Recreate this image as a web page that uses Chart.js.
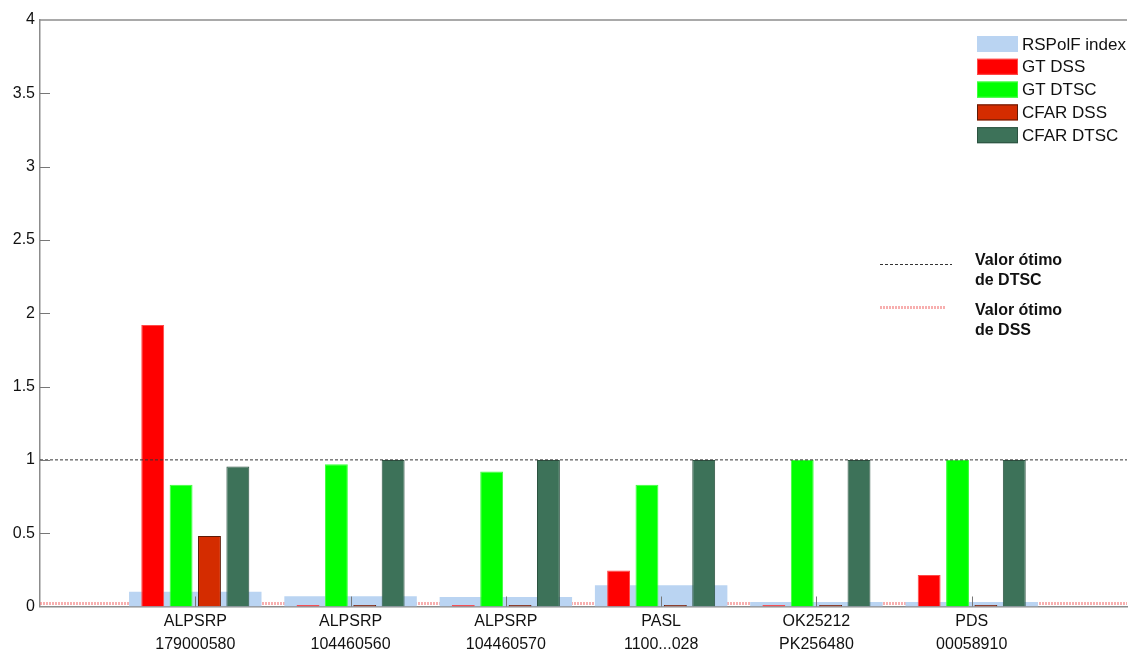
<!DOCTYPE html>
<html>
<head>
<meta charset="utf-8">
<script src="https://cdn.jsdelivr.net/npm/chart.js@4.4.1/dist/chart.umd.min.js"></script>
<style>
  html, body { margin: 0; padding: 0; background: #ffffff; }
  #wrap { width: 1131px; height: 653px; position: relative; }
</style>
</head>
<body>
<div id="wrap"><canvas id="chart"></canvas></div>
<script>
// Scenes shown along the horizontal axis (two-line labels)
const categories = [
  ['ALPSRP', '179000580'],
  ['ALPSRP', '104460560'],
  ['ALPSRP', '104460570'],
  ['PASL', '1100...028'],
  ['OK25212', 'PK256480'],
  ['PDS', '00058910']
];

// Series values per scene
const rspolfIndex = [0.10, 0.07, 0.065, 0.145, 0.03, 0.03];
const gtDss       = [1.92, 0.01, 0.01, 0.245, 0.01, 0.215];
const gtDtsc      = [0.83, 0.97, 0.92, 0.83, 1.00, 1.00];
const cfarDss     = [0.48, 0.01, 0.01, 0.01, 0.01, 0.01];
const cfarDtsc    = [0.955, 1.00, 1.00, 1.00, 1.00, 1.00];

// Optimum reference levels
const optimumDtsc = 1;
const optimumDss = 0.02;

// Y axis ticks
const yTicks = [0, 0.5, 1, 1.5, 2, 2.5, 3, 3.5, 4];

// The axis runs from slot 0 to slot 7, scenes sit on slots 1..6
const axisLabels = [[''], ...categories, ['']];
const pad = arr => [null, ...arr, null];
const flat = v => axisLabels.map(() => v);

const FONT = '"Liberation Sans", Arial, sans-serif';

const barCommon = {
  type: 'bar',
  categoryPercentage: 0.731,
  barPercentage: 0.807,
  borderSkipped: 'bottom'
};

// Frame, inner tick marks, legend and reference-line notes
const decorations = {
  id: 'decorations',
  afterDraw(chart) {
    const { ctx, chartArea: a, scales } = chart;
    const x = scales.x, y = scales.y;
    ctx.save();
    // top frame line
    ctx.strokeStyle = '#8c8c8c';
    ctx.lineWidth = 1.5;
    ctx.beginPath();
    ctx.moveTo(a.left, a.top);
    ctx.lineTo(a.right, a.top);
    ctx.stroke();
    // inner ticks on the y axis
    ctx.lineWidth = 1;
    ctx.strokeStyle = '#777';
    yTicks.forEach(v => {
      if (v === 0 || v === 4) return;
      const py = Math.round(y.getPixelForValue(v)) + 0.5;
      ctx.beginPath();
      ctx.moveTo(a.left, py);
      ctx.lineTo(a.left + 10, py);
      ctx.stroke();
    });
    // inner ticks on the x axis at each scene
    categories.forEach((c, i) => {
      const px = Math.round(x.getPixelForValue(i + 1)) + 0.5;
      ctx.beginPath();
      ctx.moveTo(px, a.bottom);
      ctx.lineTo(px, a.bottom - 10);
      ctx.stroke();
    });

    // legend for the bar series
    const bars = chart.data.datasets.filter(d => d.type === 'bar');
    const lx = 977, ly = 36, sw = 41, sh = 16, step = 22.8;
    ctx.font = '17px ' + FONT;
    ctx.textBaseline = 'middle';
    ctx.textAlign = 'left';
    bars.forEach((d, i) => {
      const top = ly + i * step;
      ctx.fillStyle = d.backgroundColor;
      ctx.fillRect(lx, top, sw, sh);
      if (d.borderWidth) {
        ctx.strokeStyle = d.borderColor;
        ctx.lineWidth = 1;
        ctx.strokeRect(lx + 0.5, top + 0.5, sw - 1, sh - 1);
      }
      ctx.fillStyle = '#111';
      ctx.fillText(d.label, lx + sw + 4, top + sh / 2 + 1);
    });

    // notes for the reference lines
    const lines = chart.data.datasets.filter(d => d.type === 'line');
    const notes = [
      { y: 264, x1: 880, x2: 952, ty: 261 },
      { y: 307, x1: 880, x2: 945, ty: 311 }
    ];
    ctx.font = 'bold 16px ' + FONT;
    lines.forEach((d, i) => {
      const n = notes[i];
      ctx.strokeStyle = d.borderColor;
      ctx.lineWidth = d.borderWidth;
      ctx.setLineDash(d.borderDash);
      ctx.beginPath();
      ctx.moveTo(n.x1, n.y + 0.5);
      ctx.lineTo(n.x2, n.y + 0.5);
      ctx.stroke();
      ctx.setLineDash([]);
      ctx.fillStyle = '#111';
      d.label.forEach((t, k) => ctx.fillText(t, 975, n.ty + k * 20));
    });
    ctx.restore();
  }
};

new Chart(document.getElementById('chart'), {
  data: {
    labels: axisLabels,
    datasets: [
      {
        type: 'line',
        label: ['Valor ótimo', 'de DTSC'],
        data: flat(optimumDtsc),
        borderColor: '#333333',
        borderWidth: 1,
        borderDash: [3, 2],
        pointRadius: 0,
        order: 0
      },
      {
        type: 'line',
        label: ['Valor ótimo', 'de DSS'],
        data: flat(optimumDss),
        borderColor: 'rgba(240, 110, 110, 0.55)',
        borderWidth: 3,
        borderDash: [2, 1],
        pointRadius: 0,
        order: 20
      },
      {
        type: 'bar',
        label: 'RSPolF index',
        data: pad(rspolfIndex),
        backgroundColor: '#bad4f2',
        borderWidth: 0,
        grouped: false,
        categoryPercentage: 1,
        barPercentage: 0.853,
        order: 10
      },
      Object.assign({}, barCommon, {
        label: 'GT DSS',
        data: pad(gtDss),
        backgroundColor: '#ff0000',
        borderColor: '#ff4a4a',
        borderWidth: 1,
        order: 5
      }),
      Object.assign({}, barCommon, {
        label: 'GT DTSC',
        data: pad(gtDtsc),
        backgroundColor: '#00ff00',
        borderColor: '#3cff3c',
        borderWidth: 1,
        order: 5
      }),
      Object.assign({}, barCommon, {
        label: 'CFAR DSS',
        data: pad(cfarDss),
        backgroundColor: '#d42c00',
        borderColor: '#5e1a06',
        borderWidth: 1,
        order: 5
      }),
      Object.assign({}, barCommon, {
        label: 'CFAR DTSC',
        data: pad(cfarDtsc),
        backgroundColor: '#3d7259',
        borderColor: '#2c5240',
        borderWidth: 1,
        order: 5
      })
    ]
  },
  options: {
    responsive: true,
    maintainAspectRatio: false,
    animation: false,
    layout: { padding: { top: 20, right: 0, left: 0, bottom: 0 } },
    plugins: {
      legend: { display: false },
      tooltip: { enabled: false }
    },
    scales: {
      x: {
        type: 'category',
        offset: false,
        grid: { display: false, drawTicks: false, tickLength: 0 },
        border: { display: true, color: '#8c8c8c', width: 1.5 },
        ticks: {
          autoSkip: false,
          maxRotation: 0,
          minRotation: 0,
          padding: 4,
          color: '#111',
          font: { family: FONT, size: 16, lineHeight: 1.4 }
        },
        afterFit(s) { s.height = 46.5; }
      },
      y: {
        min: 0,
        max: 4,
        grid: { display: false, drawTicks: false, tickLength: 0 },
        border: { display: true, color: '#8c8c8c', width: 1.5 },
        afterBuildTicks(s) { s.ticks = yTicks.map(v => ({ value: v })); },
        ticks: {
          padding: 5,
          color: '#111',
          font: { family: FONT, size: 16 },
          callback: v => String(v)
        },
        afterFit(s) { s.width = 40; }
      }
    }
  },
  plugins: [decorations]
});
</script>
</body>
</html>
